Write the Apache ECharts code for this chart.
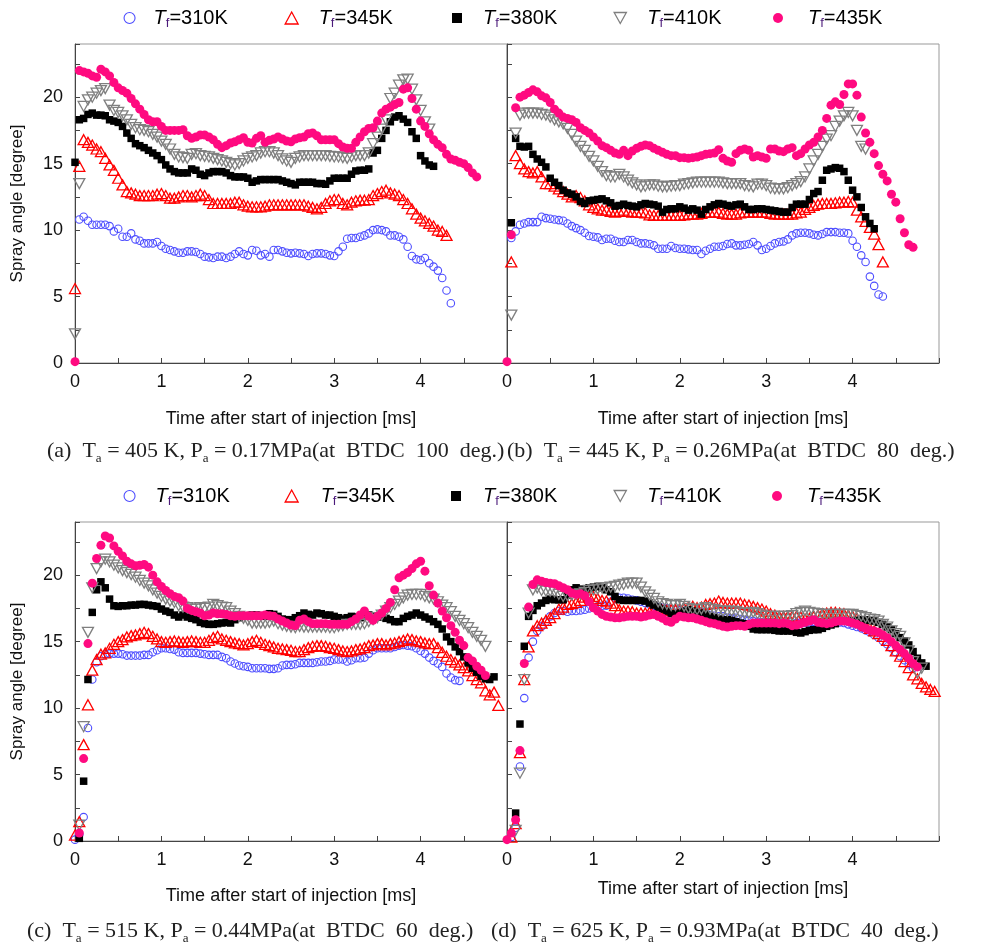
<!DOCTYPE html>
<html>
<head>
<meta charset="utf-8">
<title>Spray angle</title>
<script src="https://cdn.jsdelivr.net/npm/echarts/dist/echarts.min.js"></script>
<style>
  html, body { margin: 0; padding: 0; background: #ffffff; }
  #chart { width: 989px; height: 946px; }
</style>
</head>
<body>
<div id="chart"></div>
<script>
// Sampling interval of the spray images [ms]
const DT = 0.05;

// Fuel temperatures (legend entries)
const TEMPS = ['310', '345', '380', '410', '435'];

// Axis ticks
const X_TICK_LABELS = [0, 1, 2, 3, 4];
const Y_TICK_LABELS = [0, 5, 10, 15, 20];

// Panel captions: [tag, Ta, Pa, crank angle]
const CAPTION_TAGS = ['(a)', '(b)', '(c)', '(d)'];
const CAPTION_TA = ['405', '445', '515', '625'];
const CAPTION_PA = ['0.17', '0.26', '0.44', '0.93'];
const CAPTION_BTDC = ['100', '80', '60', '40'];

// ---------- (a) Ta = 405 K ----------
const START_A = [0.05, 0, 0, 0, 0];
const A310 = [10.8,11.0,10.7,10.4,10.4,10.4,10.4,10.3,9.9,10.1,
  9.5,9.5,9.75,9.3,9.2,9.0,9.0,9.0,9.1,8.8,
  8.6,8.5,8.4,8.3,8.3,8.4,8.4,8.35,8.2,8.0,
  7.95,7.9,8.0,8.0,7.9,8.0,8.2,8.4,8.2,8.1,
  8.5,8.45,8.1,8.2,8.0,8.5,8.5,8.4,8.3,8.25,
  8.3,8.25,8.2,8.05,8.2,8.25,8.25,8.2,8.1,8.05,
  8.4,8.75,9.35,9.4,9.4,9.5,9.6,9.75,10.0,10.05,
  10.0,9.9,9.6,9.6,9.5,9.3,8.75,8.05,7.8,7.75,
  7.9,7.5,7.25,6.95,6.4,5.45,4.5];
const A345 = [5.6,14.8,16.8,16.6,16.4,16.1,15.9,15.4,14.9,14.5,
  13.9,13.4,12.9,12.8,12.7,12.6,12.6,12.6,12.6,12.7,
  12.75,12.6,12.4,12.4,12.5,12.6,12.6,12.5,12.6,12.7,
  12.6,12.3,12.0,12.0,12.0,12.0,12.0,12.1,12.1,11.9,
  11.8,11.75,11.75,11.75,11.8,11.9,11.9,11.9,11.9,11.9,
  11.9,11.9,11.9,11.9,11.8,11.7,11.6,11.7,12.0,12.2,
  12.3,12.3,12.0,11.9,12.1,12.2,12.25,12.25,12.3,12.6,
  12.75,12.9,13.0,12.8,12.7,12.6,12.3,12.0,11.6,11.2,
  10.9,10.7,10.5,10.3,10.0,9.9,9.6];
const A380 = [15.1,18.3,18.4,18.7,18.8,18.65,18.65,18.6,18.3,18.2,
  18.1,17.8,17.3,16.9,16.5,16.35,16.2,16.0,15.8,15.6,
  15.3,14.9,14.6,14.4,14.3,14.3,14.3,14.6,14.5,14.2,
  14.1,14.3,14.4,14.4,14.4,14.3,14.1,14.0,14.0,14.0,
  13.9,13.6,13.7,13.8,13.8,13.8,13.8,13.8,13.7,13.6,
  13.5,13.4,13.6,13.6,13.6,13.6,13.5,13.5,13.45,13.7,
  13.9,13.9,13.9,13.9,14.2,14.45,14.5,14.5,14.6,15.8,
  16.0,16.9,17.5,18.15,18.5,18.6,18.35,18.1,17.4,16.9,
  15.6,15.2,14.9,14.8];
const A410 = [2.2,13.5,19.3,19.8,20.0,20.3,20.5,20.65,19.4,19.0,
  18.85,18.6,18.3,17.95,17.7,17.55,17.5,17.4,17.2,17.0,
  16.7,16.45,16.1,15.7,15.5,15.45,15.4,15.7,15.75,15.6,
  15.55,15.5,15.4,15.3,15.2,15.1,15.0,14.9,15.0,15.2,
  15.4,15.5,15.6,15.8,15.9,15.9,15.8,15.6,15.35,15.2,
  15.1,15.4,15.5,15.6,15.6,15.6,15.6,15.6,15.6,15.55,
  15.5,15.5,15.45,15.4,15.5,15.6,15.6,15.6,15.8,16.5,
  17.0,17.6,18.3,19.9,20.3,20.9,21.3,21.35,20.6,19.8,
  19.0,18.15,17.6];
const A435 = [0.1,22.0,21.9,21.8,21.6,21.5,22.1,21.9,21.6,21.1,
  20.7,20.5,20.3,19.9,19.5,19.1,18.7,18.3,18.15,18.15,
  17.8,17.5,17.5,17.5,17.5,17.55,17.1,16.9,17.0,17.15,
  17.15,17.0,16.8,16.45,16.2,16.35,16.55,16.65,16.8,16.95,
  16.6,16.55,16.9,17.1,16.6,16.75,16.85,17.0,16.85,16.7,
  16.65,16.85,16.95,17.0,17.25,17.3,17.1,16.8,16.8,16.8,
  16.8,16.5,16.25,16.15,16.15,16.6,17.0,17.4,17.65,17.7,
  18.2,18.8,19.1,19.25,19.45,19.6,20.6,20.7,19.9,19.1,
  18.2,17.8,17.25,16.8,16.45,16.2,15.7,15.35,15.25,15.1,
  15.0,14.7,14.3,14.0];

// ---------- (b) Ta = 445 K ----------
const START_B = [0.05, 0.05, 0.05, 0.05, 0];
const B310 = [9.4,9.9,10.4,10.5,10.6,10.6,10.6,11.0,10.9,10.85,
  10.8,10.75,10.7,10.5,10.3,10.15,10.0,9.8,9.55,9.5,
  9.45,9.25,9.35,9.35,9.2,9.1,9.1,9.25,9.25,9.1,
  9.0,9.0,8.95,8.85,8.6,8.6,8.6,8.8,8.65,8.6,
  8.6,8.55,8.5,8.5,8.2,8.45,8.6,8.75,8.75,8.8,
  8.95,9.0,8.85,8.85,8.9,8.95,9.1,8.85,8.5,8.6,
  8.8,9.0,9.1,9.15,9.3,9.6,9.75,9.8,9.8,9.75,
  9.65,9.6,9.7,9.85,9.85,9.85,9.8,9.8,9.75,9.2,
  8.75,8.1,7.6,6.5,5.8,5.15,5.0];
const B345 = [7.6,15.6,15.0,14.6,14.4,14.3,14.4,14.0,13.5,13.5,
  13.3,13.1,12.9,12.7,12.5,12.6,12.45,12.2,11.9,11.7,
  11.6,11.5,11.5,11.4,11.35,11.4,11.5,11.4,11.35,11.35,
  11.35,11.3,11.15,11.1,11.1,11.1,11.1,11.1,11.1,
  11.1,11.15,11.2,11.2,11.2,11.25,11.35,11.35,11.35,11.35,
  11.25,11.2,11.2,11.2,11.3,11.35,11.35,11.35,11.35,11.35,
  11.35,11.25,11.2,11.2,11.2,11.2,11.2,11.3,11.35,11.55,
  11.7,11.85,11.95,12.0,12.0,12.0,12.05,12.1,12.1,12.15,
  12.1,11.5,11.0,10.65,10.2,9.7,8.9,7.6];
const B380 = [10.55,16.9,16.3,16.25,16.3,15.7,15.35,15.1,14.75,13.9,
  13.6,13.35,13.0,12.8,12.7,12.5,12.15,12.0,12.2,12.25,
  12.3,12.35,12.2,12.05,11.8,11.85,11.95,11.85,11.8,11.75,
  11.9,12.0,11.95,11.9,11.8,11.35,11.55,11.6,11.6,11.75,
  11.65,11.5,11.6,11.5,11.2,11.55,11.75,11.9,12.0,
  11.95,11.85,11.8,11.9,11.95,11.75,11.55,11.55,11.6,11.6,
  11.55,11.5,11.45,11.4,11.35,11.35,11.7,11.95,11.95,11.95,
  12.3,12.75,12.9,13.75,14.5,14.6,14.7,14.65,14.4,13.75,
  13.0,12.5,11.7,11.0,10.5,10.1];
const B410 = [3.6,17.3,18.65,18.8,18.8,18.8,18.8,18.7,18.65,18.5,
  18.3,18.15,18.0,17.65,17.2,16.7,16.3,16.0,15.55,15.2,
  14.8,14.4,14.1,14.0,14.0,14.2,14.0,13.75,13.55,13.4,
  13.25,13.3,13.4,13.4,13.3,13.25,13.25,13.3,13.35,13.35,
  13.45,13.5,13.55,13.6,13.6,13.6,13.6,13.6,13.6,13.55,
  13.5,13.5,13.5,13.5,13.35,13.3,13.25,13.45,13.45,13.35,
  13.15,13.1,13.1,13.1,13.2,13.35,13.5,13.65,14.0,14.6,
  15.2,15.7,16.3,16.85,17.1,17.8,18.2,18.6,18.85,18.6,
  17.5,16.3,16.1];
const B435 = [0.1,9.65,19.2,20.0,20.15,20.35,20.55,20.4,20.1,19.95,
  19.6,19.1,18.8,18.5,18.4,18.3,18.1,17.7,17.5,17.3,
  17.0,16.7,16.35,16.2,16.0,15.8,15.7,16.0,15.6,15.95,
  16.15,16.3,16.4,16.35,16.15,16.0,15.85,15.7,15.6,15.6,
  15.45,15.45,15.4,15.45,15.5,15.6,15.7,15.75,15.8,16.05,
  15.4,15.2,15.1,15.75,16.0,16.1,16.0,15.5,15.6,15.5,
  15.4,16.1,16.1,15.95,15.9,16.1,16.2,15.6,15.75,16.1,
  16.4,16.6,17.0,17.5,18.4,19.4,19.65,19.45,20.2,21.0,
  21.0,20.15,18.5,17.3,16.6,15.75,14.85,14.2,13.7,12.7,
  12.1,10.85,9.8,8.9,8.7];

// ---------- (c) Ta = 515 K ----------
const START_C = [0, 0, 0.05, 0.05, 0.05];
const C310 = [0.1,0.5,1.8,8.5,12.15,13.45,13.9,14.05,14.1,14.1,
  14.1,14.05,13.95,13.95,13.95,13.95,14.0,14.0,14.2,14.35,
  14.5,14.5,14.45,14.4,14.2,14.15,14.15,14.15,14.15,14.1,
  14.05,14.0,14.0,14.0,13.85,13.75,13.5,13.35,13.2,13.15,
  13.1,13.0,13.0,13.0,13.0,12.95,12.95,13.0,13.2,13.25,
  13.25,13.3,13.4,13.4,13.4,13.4,13.45,13.5,13.5,13.55,
  13.65,13.65,13.65,13.5,13.6,13.75,13.75,13.8,14.1,14.35,
  14.5,14.5,14.5,14.5,14.6,14.7,14.75,14.7,14.65,14.5,
  14.3,14.1,13.8,13.55,13.35,13.1,12.6,12.3,12.1,12.05];
const C345 = [0.45,1.45,7.25,10.25,12.85,13.65,14.05,14.15,14.5,14.8,
  15.0,15.15,15.35,15.45,15.5,15.6,15.7,15.6,15.4,15.2,
  15.0,14.95,15.0,15.05,15.0,14.95,15.0,15.05,15.0,14.95,
  14.95,15.1,15.3,15.4,15.2,15.1,15.0,14.9,14.85,14.75,
  14.85,15.0,15.1,14.95,14.8,14.7,14.6,14.5,14.45,14.4,
  14.35,14.25,14.25,14.4,14.55,14.65,14.7,14.7,14.65,14.55,
  14.5,14.4,14.3,14.25,14.3,14.4,14.45,14.55,14.7,14.75,
  14.85,14.85,14.75,14.85,14.9,15.0,15.1,15.2,15.15,15.05,
  15.0,14.9,14.85,14.85,14.55,14.2,13.9,13.65,13.45,13.25,
  13.05,12.8,12.45,12.15,11.9,11.3,11.0,11.2,10.2];
const C380 = [0.2,4.5,12.15,17.2,18.9,19.5,19.05,18.2,17.7,17.65,
  17.7,17.7,17.75,17.75,17.8,17.8,17.75,17.7,17.65,17.45,
  17.3,17.2,17.0,16.85,17.0,16.85,16.75,16.65,16.45,16.35,
  16.3,16.3,16.35,16.4,16.45,16.4,16.65,16.8,16.9,16.95,
  17.0,17.0,16.95,16.9,17.1,17.05,16.9,16.7,16.65,16.65,
  16.8,16.95,17.15,17.05,17.0,17.15,17.1,17.0,17.0,16.9,
  16.8,16.7,16.8,16.9,16.85,16.8,16.9,17.0,16.95,16.9,
  16.85,16.75,16.65,16.5,16.5,16.75,16.9,17.0,17.15,17.0,
  16.85,16.7,16.5,16.3,15.95,15.35,15.0,14.6,14.25,13.85,
  13.4,13.0,12.7,12.4,12.2,12.15,12.35];
const C410 = [1.2,8.6,15.7,19.05,20.5,21.0,21.2,21.0,20.75,20.55,
  20.35,20.2,20.05,19.85,19.6,19.4,19.2,18.9,18.65,18.4,
  18.2,18.05,17.95,17.7,17.6,17.55,17.45,17.45,17.55,17.5,
  17.6,17.8,17.7,17.6,17.55,17.3,17.1,16.9,16.75,16.6,
  16.4,16.4,16.4,16.4,16.45,16.55,16.35,16.25,16.15,16.1,
  16.05,16.15,16.1,16.1,16.1,16.1,16.1,16.1,16.05,16.05,
  16.15,16.2,16.3,16.3,16.3,16.3,16.35,16.5,16.65,16.8,
  17.0,17.3,17.55,17.8,18.05,18.3,18.5,18.55,18.55,18.55,
  18.4,18.3,18.2,18.0,17.75,17.55,17.25,16.9,16.6,16.35,
  16.05,15.7,15.4,15.1,14.65];
const C435 = [0.6,6.2,14.85,19.4,21.25,22.25,22.95,22.8,22.2,21.8,
  21.45,21.05,20.85,20.7,20.75,20.8,20.6,20.0,19.5,19.15,
  18.85,18.6,18.4,18.3,18.05,17.5,17.35,17.25,17.15,16.95,
  17.0,17.15,17.1,17.1,17.05,16.95,16.9,16.95,16.95,16.95,
  16.95,16.95,16.95,17.0,16.95,16.9,16.7,16.55,16.4,16.25,
  16.2,16.6,16.7,16.5,16.35,16.35,16.35,16.35,16.3,16.3,
  16.3,16.3,16.3,16.5,16.7,17.0,17.3,16.9,16.6,16.9,
  17.15,17.5,17.95,18.9,19.8,20.0,20.2,20.5,20.85,21.05,
  20.3,19.2,18.5,17.9,17.3,16.8,16.2,15.7,15.1,14.7,
  13.8,13.55,13.15,12.85,12.45];

// ---------- (d) Ta = 625 K ----------
const START_D = [0.05, 0.05, 0.1, 0.1, 0];
const D310 = [0.3,1.0,5.6,10.75,13.8,15.0,15.8,16.15,16.5,16.9,
  17.15,17.3,17.3,17.25,17.3,17.3,17.35,17.4,17.5,17.55,
  17.65,17.7,17.7,18.0,18.3,18.3,18.3,18.25,18.15,18.1,
  18.0,17.9,17.8,17.7,17.6,17.55,17.5,17.45,17.4,17.35,
  17.3,17.3,17.2,17.15,17.2,17.1,17.0,16.95,16.9,16.9,
  16.8,16.75,16.8,16.7,16.65,16.6,16.55,16.5,16.45,16.4,
  16.4,16.35,16.4,16.3,16.3,16.35,16.4,16.45,16.4,16.45,
  16.5,16.5,16.45,16.5,16.55,16.5,16.45,16.4,16.3,16.2,
  16.1,16.0,15.85,15.7,15.5,15.3,15.05,14.8,14.5,14.2,
  13.9,13.6,13.3,13.0];
const D345 = [0.3,1.3,6.65,12.15,14.6,15.8,16.2,16.4,16.6,16.8,
  17.1,17.45,17.6,17.8,17.85,17.95,18.1,18.35,18.4,18.4,
  18.25,18.1,18.05,17.9,17.7,17.4,17.3,17.3,17.25,17.15,
  17.15,17.15,17.2,17.3,17.3,17.35,17.35,17.4,17.4,17.45,
  17.5,17.6,17.65,17.55,17.6,17.8,17.85,17.9,18.05,17.95,
  17.9,17.9,17.9,17.9,17.8,17.75,17.65,17.55,17.45,17.3,
  17.1,17.0,16.9,16.9,16.9,16.9,16.9,16.85,16.7,16.75,
  16.9,17.0,17.1,17.15,17.2,17.2,17.15,17.1,17.0,16.9,
  16.75,16.5,16.2,16.0,15.8,15.6,15.4,15.1,14.7,14.3,
  13.9,13.5,13.05,12.5,12.2,11.85,11.6,11.4,11.25];
const D380 = [2.1,8.8,14.65,16.9,17.35,17.7,17.9,18.1,18.2,18.15,
  18.15,18.15,18.5,18.9,19.05,18.95,18.9,19.05,19.1,19.15,
  19.05,18.9,18.75,18.4,18.15,18.1,18.1,18.1,18.1,18.1,
  18.05,17.9,17.75,17.6,17.45,17.3,17.1,17.05,17.15,17.3,
  17.4,17.3,17.2,17.15,17.05,16.9,16.8,16.7,16.65,16.65,
  16.6,16.5,16.4,16.35,16.15,15.95,15.9,15.9,15.9,15.9,
  15.85,15.8,15.8,15.8,15.8,15.7,15.65,15.75,15.85,15.9,
  15.9,16.0,16.15,16.25,16.35,16.55,16.55,16.55,16.55,16.6,
  16.65,16.65,16.6,16.55,16.45,16.3,16.1,15.9,15.6,15.3,
  15.05,14.75,14.25,13.75,13.4,13.15];
const D410 = [0.8,5.1,12.15,17.15,18.9,19.05,18.85,18.8,18.8,18.75,
  18.55,18.4,18.45,18.5,18.55,18.6,18.7,18.85,18.9,18.95,
  19.05,19.05,19.1,19.15,19.25,19.3,19.4,19.4,19.4,19.1,
  18.75,18.5,18.25,18.0,17.85,17.8,17.7,17.7,17.8,17.65,
  17.5,17.4,17.4,17.45,17.55,17.45,17.4,17.3,17.3,17.3,
  17.3,17.25,17.15,17.15,17.15,17.2,17.1,17.0,16.9,16.9,
  16.9,16.9,16.9,16.9,16.95,17.1,17.2,17.3,17.2,17.15,
  17.1,17.05,17.05,17.05,17.05,17.05,17.05,17.05,17.05,16.95,
  16.9,16.8,16.7,16.65,16.55,16.3,16.1,15.8,15.6,15.4,
  14.9,14.3,13.5,12.65,13.0];
const D435 = [0.1,0.6,1.6,6.8,13.35,17.6,19.3,19.65,19.55,19.45,
  19.4,19.35,19.2,19.05,18.9,18.65,18.55,18.6,18.45,18.0,
  17.55,17.3,17.05,16.9,16.85,16.8,16.8,16.85,16.9,16.9,
  16.9,16.85,16.9,17.0,17.05,16.9,16.75,16.55,16.45,16.7,
  16.9,16.85,16.8,16.8,16.7,16.6,16.5,16.4,16.35,16.25,
  16.15,16.1,16.15,16.2,16.2,16.15,16.3,16.4,16.4,16.4,
  16.4,16.4,16.4,16.35,16.4,16.35,16.2,16.25,16.35,16.45,
  16.55,16.65,16.45,16.4,16.35,16.4,16.5,16.55,16.55,16.5,
  16.4,16.3,16.15,16.0,15.85,15.8,15.7,15.5,15.3,15.0,
  14.7,14.4,14.1,13.75,13.35,13.1];

const PANEL_VALUES = [
  [A310, A345, A380, A410, A435],
  [B310, B345, B380, B410, B435],
  [C310, C345, C380, C410, C435],
  [D310, D345, D380, D410, D435]
];
const PANEL_STARTS = [START_A, START_B, START_C, START_D];

// ---------- styling ----------
const SANS = '"Liberation Sans", Arial, sans-serif';
const SERIF = '"Liberation Serif", "Times New Roman", serif';

const MARKERS = [
  { symbol: 'circle', size: 7.5, legendSize: [11, 11],
    style: { color: 'rgba(255,255,255,0)', borderColor: '#4d4dff', borderWidth: 1.1 } },
  { symbol: 'triangle', size: [11, 10], legendSize: [13, 12],
    style: { color: 'rgba(255,255,255,0)', borderColor: '#ff0000', borderWidth: 1.3 } },
  { symbol: 'rect', size: 7.5, legendSize: [10, 10],
    style: { color: '#000000' } },
  { symbol: 'path://M0,0L10,0L5,9Z', size: [11, 10], legendSize: [13, 11],
    style: { color: 'rgba(255,255,255,0)', borderColor: '#7f7f7f', borderWidth: 1.3 } },
  { symbol: 'circle', size: 9, legendSize: [10, 10],
    style: { color: '#ff0a80' } }
];

const GRIDS = [
  { left: 75, top: 44, width: 432, height: 319 },
  { left: 507, top: 44, width: 432, height: 319 },
  { left: 75, top: 522, width: 432, height: 319 },
  { left: 507, top: 522, width: 432, height: 319 }
];
const X_NAME_GAP = [47, 47, 46, 39];

const seriesName = t => 'Tf=' + t + 'K';

// ---------- axes ----------
const xAxes = GRIDS.map((g, i) => ({
  type: 'value', gridIndex: i, min: 0, max: 5, interval: 0.5,
  name: 'Time after start of injection [ms]',
  nameLocation: 'middle', nameGap: X_NAME_GAP[i],
  nameTextStyle: { fontFamily: SANS, fontSize: 18, color: '#111' },
  axisLine: { show: true, onZero: false, lineStyle: { color: '#444', width: 1 } },
  axisTick: { show: true, inside: true, length: 5, lineStyle: { color: '#444' } },
  axisLabel: {
    show: true, interval: 0, margin: 10, fontFamily: SANS, fontSize: 18, color: '#111',
    formatter: v => (X_TICK_LABELS.indexOf(v) >= 0 ? String(v) : '')
  },
  splitLine: { show: false }
}));

const yAxes = GRIDS.map((g, i) => {
  const labelled = (i === 0 || i === 2);
  return {
    type: 'value', gridIndex: i, min: 0, max: 24, interval: 2.5,
    name: labelled ? 'Spray angle [degree]' : '',
    nameLocation: 'middle', nameGap: 49, nameRotate: 90,
    nameTextStyle: { fontFamily: SANS, fontSize: 17, color: '#111' },
    axisLine: { show: true, onZero: false, lineStyle: { color: '#444', width: 1 } },
    axisTick: { show: true, inside: true, length: 5, lineStyle: { color: '#444' } },
    axisLabel: {
      show: labelled, interval: 0, margin: 12, fontFamily: SANS, fontSize: 18, color: '#111',
      formatter: v => (Y_TICK_LABELS.indexOf(v) >= 0 ? String(v) : '')
    },
    splitLine: { show: false }
  };
});

// ---------- series ----------
const series = [];
PANEL_VALUES.forEach((set, p) => {
  set.forEach((vals, k) => {
    const t0 = PANEL_STARTS[p][k];
    const m = MARKERS[k];
    series.push({
      type: 'scatter',
      name: seriesName(TEMPS[k]),
      xAxisIndex: p, yAxisIndex: p,
      symbol: m.symbol,
      symbolSize: m.size,
      itemStyle: Object.assign({ opacity: 1 }, m.style),
      emphasis: { disabled: true },
      silent: true,
      data: vals.map((v, i) => [+(t0 + i * DT).toFixed(3), v])
    });
  });
});

// ---------- legends (one entry each, two rows) ----------
const LEGEND_ROWS = [
  { top: 8, icons: [129, 291, 457, 620, 778], texts: [153, 318, 483, 647, 808] },
  { top: 486, icons: [129, 291, 456, 620, 777], texts: [155, 320, 483, 647, 807] }
];
const legends = [];
LEGEND_ROWS.forEach(row => {
  TEMPS.forEach((t, k) => {
    const m = MARKERS[k];
    const w = m.legendSize[0], h = m.legendSize[1];
    const left = row.icons[k] - w / 2;
    const spacer = Math.max(1, row.texts[k] - (left + w + 5));
    legends.push({
      show: true,
      left: left, top: row.top,
      padding: 0,
      itemWidth: w, itemHeight: h,
      selectedMode: false,
      data: [{ name: seriesName(t), icon: m.symbol, itemStyle: Object.assign({}, m.style) }],
      formatter: () => '{sp| }{i|T}{s|f}{n|=' + t + 'K}',
      textStyle: {
        fontFamily: SANS, fontSize: 20, color: '#000',
        rich: {
          sp: { width: spacer, fontSize: 20, lineHeight: 24 },
          i: { fontFamily: SANS, fontSize: 20, fontStyle: 'italic', color: '#000', lineHeight: 24 },
          s: { fontFamily: SANS, fontSize: 13, color: '#4b1a7a', lineHeight: 13, verticalAlign: 'bottom' },
          n: { fontFamily: SANS, fontSize: 20, color: '#000', lineHeight: 24 }
        }
      }
    });
  });
});

// ---------- captions ----------
const CAPTION_POS = [[47, 452], [507, 452], [27, 932], [491, 932]];
const graphic = CAPTION_TAGS.map((tag, i) => ({
  type: 'text',
  left: CAPTION_POS[i][0],
  top: CAPTION_POS[i][1] - 14,
  silent: true,
  style: {
    text: tag + '  T{s|a} = ' + CAPTION_TA[i] + ' K, P{s|a} = ' + CAPTION_PA[i] +
          'MPa(at  BTDC  ' + CAPTION_BTDC[i] + '  deg.)',
    font: '22px ' + SERIF,
    fill: '#222',
    lineHeight: 27,
    rich: {
      s: { fontFamily: SERIF, fontSize: 13, fill: '#222', lineHeight: 14, verticalAlign: 'bottom' }
    }
  }
}));

const chart = echarts.init(document.getElementById('chart'), null, { renderer: 'canvas' });
chart.setOption({
  backgroundColor: '#ffffff',
  animation: false,
  grid: GRIDS.map(g => Object.assign({ show: true, borderColor: '#999', borderWidth: 1, backgroundColor: 'transparent' }, g)),
  xAxis: xAxes,
  yAxis: yAxes,
  legend: legends,
  graphic: graphic,
  series: series
});
</script>
</body>
</html>
